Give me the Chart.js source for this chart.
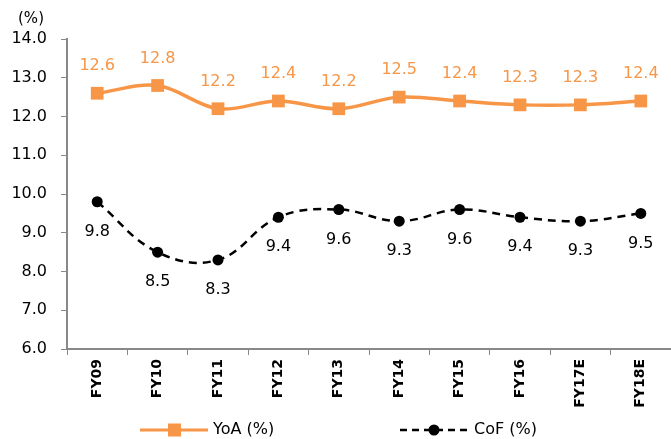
<!DOCTYPE html>
<html>
<head>
<meta charset="utf-8">
<script src="https://cdn.jsdelivr.net/npm/chart.js@4/dist/chart.umd.min.js"></script>
<style>
  html, body { margin: 0; padding: 0; background: #fff; overflow: hidden; }
  #wrap { width: 680px; height: 439px; }
</style>
</head>
<body>
<div id="wrap"><canvas id="c" width="680" height="439"></canvas></div>
<script>
const categories = ['FY09', 'FY10', 'FY11', 'FY12', 'FY13', 'FY14', 'FY15', 'FY16', 'FY17E', 'FY18E'];
const yoaValues = [12.6, 12.8, 12.2, 12.4, 12.2, 12.5, 12.4, 12.3, 12.3, 12.4];
const cofValues = [9.8, 8.5, 8.3, 9.4, 9.6, 9.3, 9.6, 9.4, 9.3, 9.5];
const seriesNames = ['YoA (%)', 'CoF (%)'];
const unitLabel = '(%)';

const FONT = "'DejaVu Sans', sans-serif";
const ORANGE = '#F79646';

// value labels above (YoA) and below (CoF) each point, plus unit caption and legend
const annotate = {
  id: 'annotate',
  afterDatasetsDraw(chart) {
    const ctx = chart.ctx;
    ctx.save();
    ctx.textAlign = 'center';
    ctx.textBaseline = 'middle';
    ctx.font = '16px ' + FONT;
    chart.getDatasetMeta(0).data.forEach((pt, i) => {
      ctx.fillStyle = ORANGE;
      ctx.fillText(yoaValues[i].toFixed(1), pt.x, pt.y - 27);
    });
    chart.getDatasetMeta(1).data.forEach((pt, i) => {
      ctx.fillStyle = '#000';
      ctx.fillText(cofValues[i].toFixed(1), pt.x, pt.y + 30);
    });

    // unit caption
    ctx.font = '15px ' + FONT;
    ctx.fillStyle = '#000';
    ctx.fillText(unitLabel, 31, 19);

    // legend
    const ly = 430;
    ctx.font = '16px ' + FONT;
    ctx.textAlign = 'left';
    // YoA
    ctx.strokeStyle = ORANGE;
    ctx.lineWidth = 3;
    ctx.setLineDash([]);
    ctx.beginPath(); ctx.moveTo(140, ly); ctx.lineTo(208, ly); ctx.stroke();
    ctx.fillStyle = ORANGE;
    ctx.fillRect(168, ly - 6.5, 13, 13);
    ctx.fillStyle = '#000';
    ctx.fillText(seriesNames[0], 213, ly);
    // CoF
    ctx.strokeStyle = '#000';
    ctx.lineWidth = 2.5;
    ctx.setLineDash([7, 5]);
    ctx.beginPath(); ctx.moveTo(400, ly); ctx.lineTo(468, ly); ctx.stroke();
    ctx.setLineDash([]);
    ctx.beginPath(); ctx.arc(434, ly, 5.5, 0, Math.PI * 2); ctx.fill();
    ctx.fillText(seriesNames[1], 474, ly);
    ctx.restore();
  }
};

new Chart(document.getElementById('c'), {
  type: 'line',
  data: {
    labels: categories,
    datasets: [
      {
        label: seriesNames[0],
        data: yoaValues,
        borderColor: ORANGE,
        backgroundColor: ORANGE,
        borderWidth: 3.5,
        pointStyle: 'rect',
        pointRadius: 9,
        pointBorderWidth: 0,
        tension: 0.35
      },
      {
        label: seriesNames[1],
        data: cofValues,
        borderColor: '#000',
        backgroundColor: '#000',
        borderWidth: 2.5,
        borderDash: [8, 6],
        pointStyle: 'circle',
        pointRadius: 5.5,
        pointBorderWidth: 0,
        tension: 0.4
      }
    ]
  },
  options: {
    responsive: false,
    animation: false,
    layout: { padding: { top: 39, right: 4, left: 0, bottom: 0 } },
    plugins: { legend: { display: false }, tooltip: { enabled: false } },
    scales: {
      x: {
        offset: true,
        grid: {
          display: true,
          drawOnChartArea: false,
          offset: true,
          tickLength: 6,
          color: '#888'
        },
        border: { color: '#888', width: 2 },
        ticks: {
          color: '#000',
          font: { family: FONT, size: 14, weight: 'bold' },
          maxRotation: 90,
          minRotation: 90,
          padding: 4,
          autoSkip: false
        },
        afterFit(scale) { scale.height = 90; }
      },
      y: {
        min: 6,
        max: 14,
        grid: {
          display: true,
          drawOnChartArea: false,
          tickLength: 6,
          color: '#888'
        },
        border: { color: '#888', width: 2 },
        ticks: {
          stepSize: 1,
          color: '#000',
          font: { family: FONT, size: 16 },
          padding: 14,
          callback: v => v.toFixed(1)
        },
        afterFit(scale) { scale.width = 67; }
      }
    }
  },
  plugins: [annotate]
});
</script>
</body>
</html>
